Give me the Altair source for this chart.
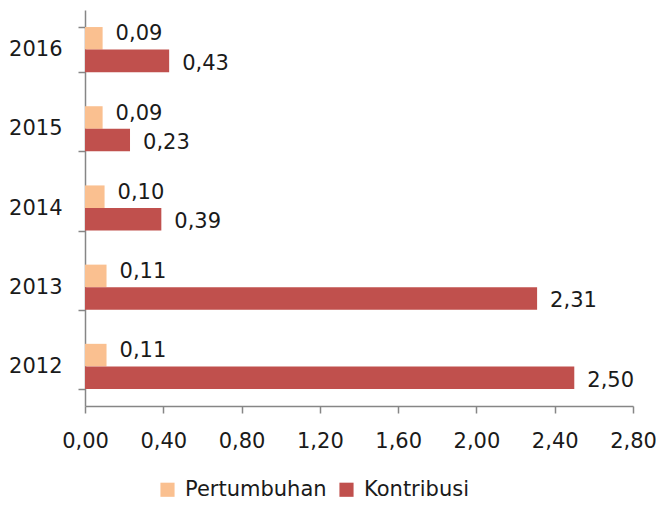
import altair as alt
import pandas as pd

years = ["2012", "2013", "2014", "2015", "2016"]
pertumbuhan = [0.11, 0.11, 0.10, 0.09, 0.09]
kontribusi = [2.50, 2.31, 0.39, 0.23, 0.43]
series = ["Pertumbuhan", "Kontribusi"]
colors = ["#FAC090", "#C0504D"]
x_ticks = [0.0, 0.4, 0.8, 1.2, 1.6, 2.0, 2.4, 2.8]

rows = []
for y, p, k in zip(years, pertumbuhan, kontribusi):
    rows.append({"Tahun": y, "Seri": "Pertumbuhan", "Nilai": p})
    rows.append({"Tahun": y, "Seri": "Kontribusi", "Nilai": k})
df = pd.DataFrame(rows)

FONT = "DejaVu Sans"
FS = 21
TXT = "#1a1a1a"
year_order = list(reversed(years))

y_enc = alt.Y("Tahun:N", sort=year_order,
              scale=alt.Scale(paddingInner=0.43, paddingOuter=0.215),
              axis=alt.Axis(title=None, tickBand="extent", tickSize=7,
                            labelPadding=16, labelFontSize=FS, labelFont=FONT,
                            labelColor=TXT, domainColor="#868686",
                            tickColor="#868686", domainWidth=1.5, tickWidth=1.5))
x_enc = alt.X("Nilai:Q",
              scale=alt.Scale(domain=[0, 2.8], nice=False),
              axis=alt.Axis(title=None, values=x_ticks, grid=False, tickSize=7,
                            labelPadding=17, labelFontSize=FS, labelFont=FONT,
                            labelColor=TXT, domainColor="#868686",
                            tickColor="#868686", domainWidth=1.5, tickWidth=1.5,
                            labelFlush=False, labelOverlap=False,
                            labelExpr="replace(format(datum.value, '.2f'), '.', ',')"))
yoff = alt.YOffset("Seri:N", sort=series)

base = alt.Chart(df)

bars = base.mark_bar().encode(
    x=x_enc,
    y=y_enc,
    yOffset=yoff,
    color=alt.Color("Seri:N", sort=series,
                    scale=alt.Scale(domain=series, range=colors),
                    legend=alt.Legend(title=None, orient="none", direction="horizontal",
                                      legendX=72, legendY=469,
                                      symbolType="square", symbolSize=200,
                                      symbolStrokeWidth=0, symbolOpacity=1,
                                      labelFontSize=FS, labelFont=FONT,
                                      labelColor=TXT, labelOffset=7,
                                      columnPadding=9)),
)

labels_p = base.transform_filter(alt.datum.Seri == "Pertumbuhan").transform_calculate(
    lbl="replace(format(datum.Nilai, '.2f'), '.', ',')"
).mark_text(align="left", baseline="middle", dx=13, dy=-4, fontSize=FS,
            font=FONT, color=TXT).encode(
    x="Nilai:Q", y=alt.Y("Tahun:N", sort=year_order), yOffset=yoff, text="lbl:N")

labels_k = base.transform_filter(alt.datum.Seri == "Kontribusi").transform_calculate(
    lbl="replace(format(datum.Nilai, '.2f'), '.', ',')"
).mark_text(align="left", baseline="middle", dx=13, dy=3, fontSize=FS,
            font=FONT, color=TXT).encode(
    x="Nilai:Q", y=alt.Y("Tahun:N", sort=year_order), yOffset=yoff, text="lbl:N")

chart = alt.layer(bars, labels_p, labels_k).properties(
    width=548, height=396,
    autosize=alt.AutoSizeParams(type="none"),
    padding={"left": 77, "top": 2, "right": 23, "bottom": 94},
).configure(background="white").configure_view(stroke=None)

chart.save("out.html", embed_options={"renderer": "svg", "actions": False})
